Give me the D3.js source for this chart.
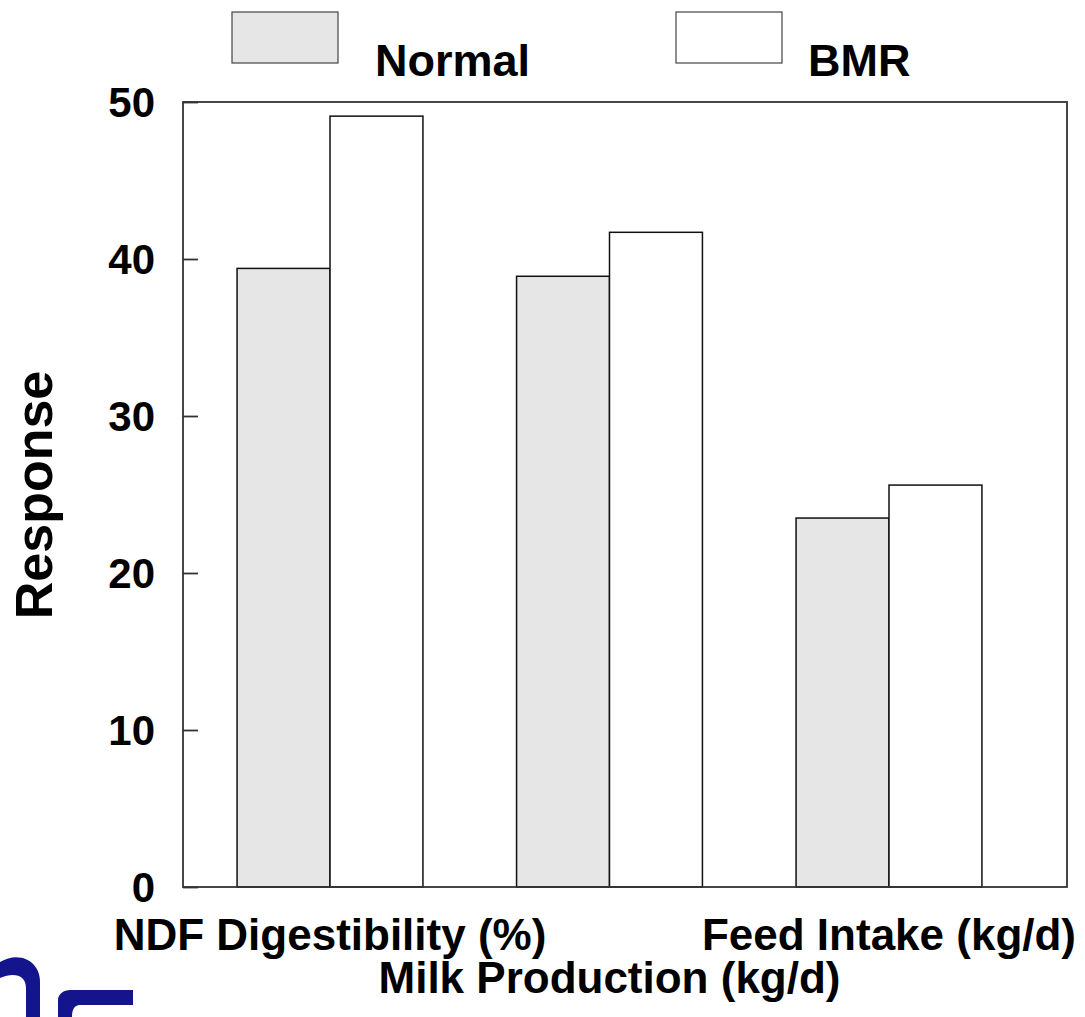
<!DOCTYPE html>
<html>
<head>
<meta charset="utf-8">
<script src="https://cdn.jsdelivr.net/npm/d3@7"></script>
<style>
  body { margin: 0; background: #fff; }
  text { font-family: "Liberation Sans", Arial, sans-serif; font-weight: bold; fill: #000; }
</style>
</head>
<body>
<div id="chart"></div>
<script>
// chart data
var categories = ["NDF Digestibility (%)", "Milk Production (kg/d)", "Feed Intake (kg/d)"];
var seriesNames = ["Normal", "BMR"];
var normalValues = [39.4, 38.9, 23.5];
var bmrValues = [49.1, 41.7, 25.6];
var yTicks = [0, 10, 20, 30, 40, 50];

var colors = { "Normal": "#e6e6e6", "BMR": "#ffffff" };

var width = 1085,
    height = 1017;

var plot = { left: 183, right: 1067, top: 102, bottom: 887 };

var svg = d3.select("#chart")
    .append("svg")
    .attr("width", width)
    .attr("height", height);

var yScale = d3.scaleLinear()
    .domain([0, 50])
    .range([plot.bottom, plot.top]);

var xScale = d3.scaleBand()
    .domain(categories)
    .range([190.25, 1028.75])
    .paddingInner(0.335)
    .paddingOuter(0.1675);

var xSub = d3.scaleBand()
    .domain(seriesNames)
    .range([0, xScale.bandwidth()]);

var rows = categories.map(function(c, i) {
    return { category: c, values: [
        { series: "Normal", value: normalValues[i] },
        { series: "BMR", value: bmrValues[i] }
    ] };
});

// bars
var groups = svg.selectAll(".group")
    .data(rows)
    .enter().append("g")
    .attr("class", "group")
    .attr("transform", function(d) { return "translate(" + xScale(d.category) + ",0)"; });

groups.selectAll("rect")
    .data(function(d) { return d.values; })
    .enter().append("rect")
    .attr("x", function(d) { return xSub(d.series); })
    .attr("y", function(d) { return yScale(d.value); })
    .attr("width", xSub.bandwidth())
    .attr("height", function(d) { return yScale(0) - yScale(d.value); })
    .attr("fill", function(d) { return colors[d.series]; })
    .attr("stroke", "#111")
    .attr("stroke-width", 1.5);

// frame
svg.append("rect")
    .attr("x", plot.left)
    .attr("y", plot.top)
    .attr("width", plot.right - plot.left)
    .attr("height", plot.bottom - plot.top)
    .attr("fill", "none")
    .attr("stroke", "#333")
    .attr("stroke-width", 1.8);

// y axis, ticks inside
var yAxis = d3.axisRight(yScale)
    .tickValues(yTicks)
    .tickSize(15)
    .tickFormat("");

svg.append("g")
    .attr("transform", "translate(" + plot.left + ",0)")
    .call(yAxis)
    .call(function(g) {
        g.select(".domain").remove();
        g.selectAll("line").attr("stroke", "#333").attr("stroke-width", 1.8);
    });

svg.selectAll(".ylabel")
    .data(yTicks)
    .enter().append("text")
    .attr("class", "ylabel")
    .attr("x", 155)
    .attr("y", function(d) { return yScale(d); })
    .attr("dy", "0.36em")
    .attr("text-anchor", "end")
    .style("font-size", "42px")
    .text(function(d) { return d; });

// category labels, staggered in two rows
svg.selectAll(".xlabel")
    .data(categories)
    .enter().append("text")
    .attr("class", "xlabel")
    .attr("x", function(d) { return xScale(d) + xScale.bandwidth() / 2; })
    .attr("y", function(d, i) { return i % 2 == 0 ? 950 : 993; })
    .attr("text-anchor", "middle")
    .style("font-size", "44px")
    .text(function(d) { return d; });

svg.append("text")
    .attr("transform", "translate(52,495) rotate(-90)")
    .attr("text-anchor", "middle")
    .style("font-size", "52px")
    .text("Response");

// legend
var legend = svg.selectAll(".legend")
    .data(seriesNames)
    .enter().append("g")
    .attr("class", "legend")
    .attr("transform", function(d, i) { return "translate(" + (232 + i * 444) + ",12)"; });

legend.append("rect")
    .attr("width", 106)
    .attr("height", 51)
    .attr("fill", function(d) { return colors[d]; })
    .attr("stroke", "#444")
    .attr("stroke-width", 1.2);

legend.append("text")
    .attr("x", function(d, i) { return i == 0 ? 143 : 132; })
    .attr("y", 64)
    .style("font-size", "45px")
    .text(function(d) { return d; });

// corner logo fragment
svg.append("path")
    .attr("d", "M0,962 C20,950 42,962 40,985 L40,1017 L26,1017 L26,988 C26,975 14,972 0,978 Z M58,1017 L58,1000 C58,994 64,990 70,990 L133,990 L133,1005 L80,1005 C74,1005 72,1010 72,1017 Z")
    .attr("fill", "#14148c");
</script>
</body>
</html>
